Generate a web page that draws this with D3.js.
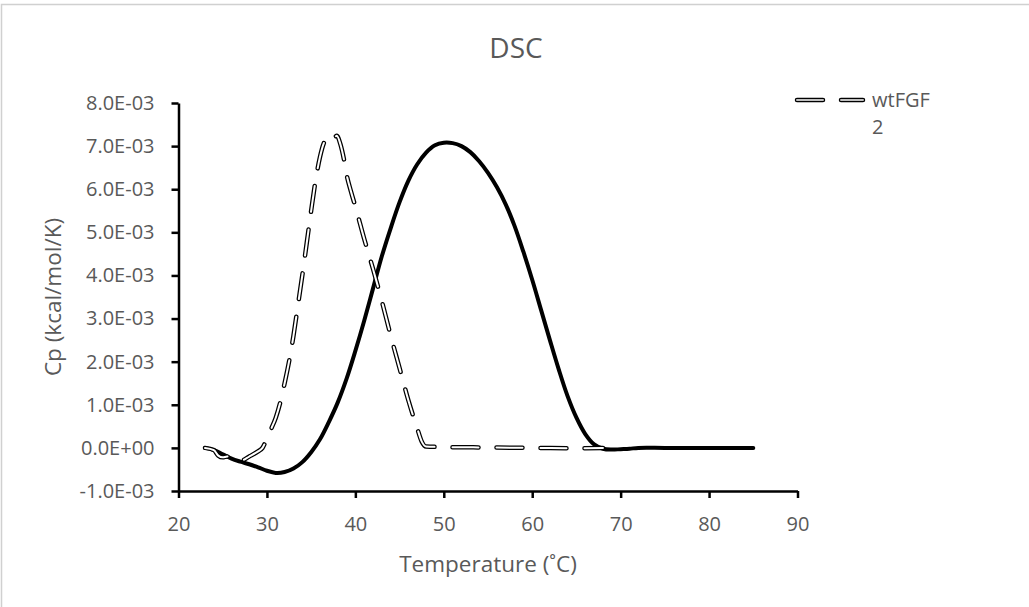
<!DOCTYPE html>
<html>
<head>
<meta charset="utf-8">
<script src="https://cdn.jsdelivr.net/npm/d3@7"></script>
<style>
  body { margin: 0; background: #fff; }
  text { font-family: "Open Sans", sans-serif; fill: #595959; }
</style>
</head>
<body>
<div class="container"></div>
<script>
// Frame
const width = 1029;
const height = 607;

// wtFGF2 (dashed) - temperature in C, Cp in 1E-3 kcal/mol/K
const wtTemps = [23, 24, 24.5, 25, 25.5, 26, 27, 28, 29, 29.5, 30, 30.5, 31, 31.5, 32, 32.5, 33, 33.5,
  34, 34.5, 35, 35.5, 36, 36.5, 37, 37.3, 37.6, 37.9, 38.3, 38.7, 39, 39.5, 40, 41, 42, 43, 44, 45,
  46, 47, 47.5, 48, 50, 55, 60, 65, 68];
const wtCp = [0, -0.05, -0.18, -0.22, -0.2, -0.28, -0.3, -0.2, -0.08, 0, 0.22, 0.45, 0.7, 1.05, 1.5, 2.0, 2.6, 3.3,
  4.0, 4.75, 5.5, 6.2, 6.75, 7.1, 7.2, 7.27, 7.2, 7.24, 7.05, 6.7, 6.35, 5.95, 5.6, 4.85, 4.15, 3.4, 2.6, 1.85,
  1.1, 0.45, 0.15, 0.03, 0.02, 0.01, 0, -0.01, 0];

// second sample (solid)
const mutTemps = [23, 24, 25, 26, 27, 28, 29, 30, 31, 32, 33, 34, 35, 36, 37, 38, 39, 40, 41, 42, 43, 44,
  45, 46, 47, 48, 49, 50, 51, 52, 53, 54, 55, 56, 57, 58, 59, 60, 61, 62, 63, 64, 65, 66, 67, 68, 69, 70,
  71, 72, 75, 80, 85];
const mutCp = [0, -0.05, -0.15, -0.25, -0.32, -0.38, -0.45, -0.53, -0.58, -0.56, -0.48, -0.33, -0.1, 0.2,
  0.6, 1.05, 1.6, 2.25, 2.95, 3.7, 4.45, 5.1, 5.7, 6.2, 6.58, 6.85, 7.02, 7.08, 7.07, 7.0, 6.86, 6.65, 6.38,
  6.05, 5.65, 5.15, 4.55, 3.9, 3.2, 2.5, 1.82, 1.2, 0.7, 0.32, 0.08, -0.02, -0.04, -0.03, -0.02, 0, 0, 0, 0];

// Axes
const xTicks = [20, 30, 40, 50, 60, 70, 80, 90];
const yTicks = [-1, 0, 1, 2, 3, 4, 5, 6, 7, 8];
const legendLabel = ['wtFGF', '2'];

function sci(v) {
  if (v === 0) return '0.0E+00';
  return (v < 0 ? '-' : '') + Math.abs(v).toFixed(1) + 'E-03';
}

function zip(ts, vs) {
  return ts.map((t, i) => ({ t: t, v: vs[i] }));
}

function draw() {
  const svg = d3.select('.container')
    .append('svg')
    .attr('width', width)
    .attr('height', height);

  // outer border
  svg.append('rect')
    .attr('x', 1.5).attr('y', 4.5)
    .attr('width', 1100).attr('height', 700)
    .attr('fill', 'none')
    .attr('stroke', '#d0d0d0')
    .attr('stroke-width', 1.5);

  const x = d3.scaleLinear().domain([20, 90]).range([178.5, 797.5]);
  const y = d3.scaleLinear().domain([-1, 8]).range([491, 103]);

  const xAxis = svg.append('g')
    .attr('transform', `translate(0,${y(-1)})`)
    .call(d3.axisBottom(x).tickValues(xTicks).tickSize(7).tickPadding(19).tickSizeOuter(0));
  const yAxis = svg.append('g')
    .attr('transform', `translate(${x(20)},0)`)
    .call(d3.axisLeft(y).tickValues(yTicks).tickFormat(sci).tickSize(7).tickPadding(17).tickSizeOuter(0));

  [xAxis, yAxis].forEach(a => {
    a.select('.domain').attr('stroke', '#000').attr('stroke-width', 2.5);
    a.selectAll('.tick line').attr('stroke', '#000').attr('stroke-width', 2.5);
    a.selectAll('.tick text')
      .style('font-family', '"Open Sans", sans-serif')
      .style('font-size', '20px')
      .attr('fill', '#595959');
  });

  const smooth = d3.line()
    .x(d => x(d.t))
    .y(d => y(d.v))
    .curve(d3.curveCatmullRom.alpha(0.5));
  const line = d3.line()
    .x(d => x(d.t))
    .y(d => y(d.v))
    .curve(d3.curveMonotoneX);

  // solid curve
  svg.append('path')
    .attr('d', smooth(zip(mutTemps, mutCp)))
    .attr('fill', 'none')
    .attr('stroke', '#000')
    .attr('stroke-width', 4)
    .attr('stroke-linejoin', 'round')
    .attr('stroke-linecap', 'round');

  // dashed double line: dark outline then white core
  const wtPath = line(zip(wtTemps, wtCp));
  svg.append('path')
    .attr('d', wtPath)
    .attr('fill', 'none')
    .attr('stroke', '#000')
    .attr('stroke-width', 4.5)
    .attr('stroke-dasharray', '26 18')
    .attr('stroke-linecap', 'round');
  svg.append('path')
    .attr('d', wtPath)
    .attr('fill', 'none')
    .attr('stroke', '#fff')
    .attr('stroke-width', 2)
    .attr('stroke-dasharray', '26 18')
    .attr('stroke-linecap', 'round');

  // title
  svg.append('text')
    .attr('x', 516).attr('y', 58)
    .attr('text-anchor', 'middle')
    .style('font-size', '28px')
    .text('DSC');

  // axis titles
  svg.append('text')
    .attr('x', (x(20) + x(90)) / 2).attr('y', 572)
    .attr('text-anchor', 'middle')
    .style('font-size', '22.5px')
    .text('Temperature (˚C)');
  svg.append('text')
    .attr('transform', `translate(61,${(y(-1) + y(8)) / 2}) rotate(-90)`)
    .attr('text-anchor', 'middle')
    .style('font-size', '22.5px')
    .text('Cp (kcal/mol/K)');

  // legend
  const lg = svg.append('g').attr('transform', 'translate(797,100)');
  lg.append('line')
    .attr('x1', 0).attr('x2', 66)
    .attr('stroke', '#000').attr('stroke-width', 4.5)
    .attr('stroke-dasharray', '26 18').attr('stroke-linecap', 'round');
  lg.append('line')
    .attr('x1', 0).attr('x2', 66)
    .attr('stroke', '#bfbfbf').attr('stroke-width', 2)
    .attr('stroke-dasharray', '26 18').attr('stroke-linecap', 'round');
  lg.selectAll('.lbl')
    .data(legendLabel)
    .enter()
    .append('text')
    .attr('class', 'lbl')
    .attr('x', 75)
    .attr('y', (d, i) => 7 + i * 27)
    .style('font-size', '20px')
    .text(d => d);
}

draw();
</script>
</body>
</html>
